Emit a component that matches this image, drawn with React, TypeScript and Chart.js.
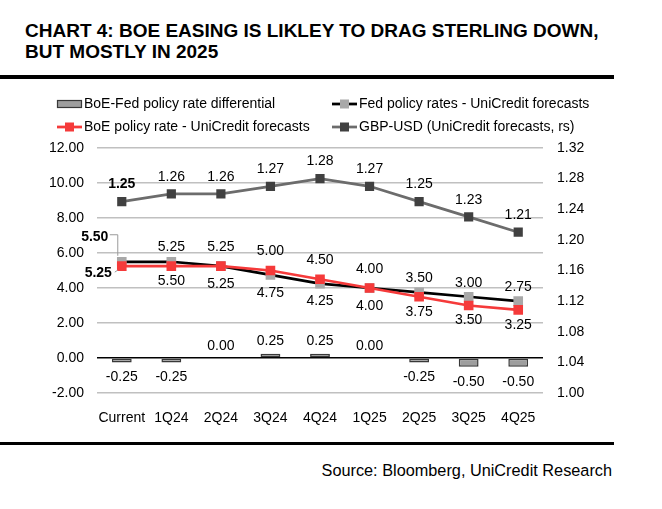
import React, { useEffect, useRef } from "react";
import { Chart, registerables } from "chart.js";

Chart.register(...registerables);

const categories = ["Current", "1Q24", "2Q24", "3Q24", "4Q24", "1Q25", "2Q25", "3Q25", "4Q25"];
const boeFedDiff = [-0.25, -0.25, 0.0, 0.25, 0.25, 0.0, -0.25, -0.5, -0.5];
const fedRates = [5.5, 5.5, 5.25, 4.75, 4.25, 4.0, 3.75, 3.5, 3.25];
const boeRates = [5.25, 5.25, 5.25, 5.0, 4.5, 4.0, 3.5, 3.0, 2.75];
const gbpUsd = [1.25, 1.26, 1.26, 1.27, 1.28, 1.27, 1.25, 1.23, 1.21];

const seriesNames = [
  "BoE-Fed policy rate differential",
  "Fed policy rates - UniCredit forecasts",
  "BoE policy rate - UniCredit forecasts",
  "GBP-USD (UniCredit forecasts, rs)",
];

const titleLines = ["CHART 4: BOE EASING IS LIKLEY TO DRAG STERLING DOWN,", "BUT MOSTLY IN 2025"];
const sourceText = "Source: Bloomberg, UniCredit Research";

const FONT = "Arial, 'Liberation Sans', Helvetica, sans-serif";
const RED = "#f53a3a";
const BAR_FILL = "#9e9e9e";
const BAR_EDGE = "#383838";
const FED_MARK = "#a8a8a8";
const GBP_LINE = "#6c6c6c";
const GBP_MARK = "#404040";
const FS = 14;

const labelsPlugin = {
  id: "valueLabels",
  afterDatasetsDraw(chart: any) {
    const ctx = chart.ctx;
    const xs = chart.scales.x;
    const y = chart.scales.y;
    const y2 = chart.scales.y2;
    ctx.save();
    ctx.fillStyle = "#000";
    ctx.textAlign = "center";
    ctx.textBaseline = "middle";
    const normal = `${FS}px ${FONT}`;
    const bold = `bold ${FS}px ${FONT}`;
    for (let i = 0; i < categories.length; i++) {
      const x = xs.getPixelForValue(i);
      const gy = y2.getPixelForValue(gbpUsd[i]);
      ctx.font = i === 0 ? bold : normal;
      ctx.fillText(gbpUsd[i].toFixed(2), x, gy - 17);
      const by = y.getPixelForValue(boeRates[i]);
      const fy = y.getPixelForValue(fedRates[i]);
      if (i === 0) {
        ctx.font = bold;
        ctx.fillText(fedRates[i].toFixed(2), x - 27, fy - 25);
        ctx.fillText(boeRates[i].toFixed(2), x - 23.5, by + 7);
        ctx.strokeStyle = "#9a9a9a";
        ctx.lineWidth = 1;
        ctx.beginPath();
        ctx.moveTo(x - 12, fy - 27);
        ctx.lineTo(x - 4, fy - 27);
        ctx.lineTo(x - 4, fy - 6);
        ctx.stroke();
        ctx.beginPath();
        ctx.moveTo(x - 7, by + 6);
        ctx.lineTo(x - 4, by + 4);
        ctx.stroke();
      } else {
        ctx.font = normal;
        ctx.fillText(boeRates[i].toFixed(2), x, Math.min(by - 19, fy - 14));
        ctx.fillText(fedRates[i].toFixed(2), x, Math.max(fy + 18, by + 15));
      }
      ctx.font = normal;
      const v = boeFedDiff[i];
      const dy = y.getPixelForValue(v);
      ctx.fillText(v.toFixed(2), x, v < 0 ? dy + 15 : dy - 12);
    }
    ctx.restore();
  },
  afterDraw(chart: any) {
    const ctx = chart.ctx;
    ctx.save();
    ctx.font = `${FS}px ${FONT}`;
    ctx.textAlign = "left";
    ctx.textBaseline = "middle";
    const rows = [14, 37];
    const cols = [57, 332];
    const items = [
      { col: 0, row: 0, kind: "bar" },
      { col: 1, row: 0, kind: "line", line: "#000", mark: FED_MARK },
      { col: 0, row: 1, kind: "line", line: RED, mark: RED },
      { col: 1, row: 1, kind: "line", line: GBP_LINE, mark: GBP_MARK },
    ];
    items.forEach((it: any, k) => {
      const x0 = cols[it.col];
      const yy = rows[it.row];
      if (it.kind === "bar") {
        ctx.fillStyle = BAR_FILL;
        ctx.fillRect(x0, yy - 3.5, 25, 7);
        ctx.strokeStyle = BAR_EDGE;
        ctx.lineWidth = 1.2;
        ctx.strokeRect(x0 + 0.5, yy - 3.5, 24, 7);
      } else {
        ctx.strokeStyle = it.line;
        ctx.lineWidth = 2.75;
        ctx.beginPath();
        ctx.moveTo(x0, yy);
        ctx.lineTo(x0 + 25, yy);
        ctx.stroke();
        ctx.fillStyle = it.mark;
        ctx.fillRect(x0 + 12.5 - 4.5, yy - 4.5, 9, 9);
      }
      ctx.fillStyle = "#000";
      ctx.fillText(seriesNames[k], x0 + 27, yy);
    });
    ctx.restore();
  },
};

export default function App() {
  const canvasRef = useRef<HTMLCanvasElement | null>(null);

  useEffect(() => {
    const canvas = canvasRef.current;
    if (!canvas) return;
    const chart = new Chart(canvas, {
      type: "bar",
      data: {
        labels: categories,
        datasets: [
          {
            type: "line",
            label: seriesNames[2],
            data: boeRates,
            yAxisID: "y",
            borderColor: RED,
            borderWidth: 2.75,
            pointStyle: "rect",
            pointRadius: 6.8,
            pointBackgroundColor: RED,
            pointBorderColor: RED,
            pointBorderWidth: 0,
            tension: 0,
            order: 1,
          } as any,
          {
            type: "line",
            label: seriesNames[1],
            data: fedRates,
            yAxisID: "y",
            borderColor: "#000",
            borderWidth: 2.75,
            pointStyle: "rect",
            pointRadius: 6.8,
            pointBackgroundColor: FED_MARK,
            pointBorderColor: FED_MARK,
            pointBorderWidth: 0,
            tension: 0,
            order: 2,
          } as any,
          {
            type: "line",
            label: seriesNames[3],
            data: gbpUsd,
            yAxisID: "y2",
            borderColor: GBP_LINE,
            borderWidth: 2.75,
            pointStyle: "rect",
            pointRadius: 6.5,
            pointBackgroundColor: GBP_MARK,
            pointBorderColor: GBP_MARK,
            pointBorderWidth: 0,
            tension: 0,
            order: 0,
          } as any,
          {
            type: "bar",
            label: seriesNames[0],
            data: boeFedDiff,
            yAxisID: "y",
            backgroundColor: BAR_FILL,
            borderColor: BAR_EDGE,
            borderWidth: 1.5,
            borderSkipped: false,
            barPercentage: 0.4,
            categoryPercentage: 1,
            order: 3,
          } as any,
        ],
      },
      options: {
        responsive: false,
        animation: false,
        devicePixelRatio: 1,
        layout: { padding: { top: 58, left: 0, right: 0, bottom: 0 } },
        plugins: {
          legend: { display: false },
          tooltip: { enabled: false },
          title: { display: false },
        },
        scales: {
          x: {
            grid: { display: false },
            border: { display: false },
            ticks: { color: "#000", font: { family: FONT, size: FS }, padding: 9, maxRotation: 0, autoSkip: false },
            afterFit: (s: any) => {
              s.height = 37;
            },
          },
          y: {
            position: "left",
            min: -2,
            max: 12,
            border: { display: false },
            grid: {
              drawTicks: false,
              color: (c: any) => (c.tick && c.tick.value === 0 ? "#000" : "#c0c0c0"),
              lineWidth: 1.5,
            },
            ticks: {
              stepSize: 2,
              color: "#000",
              font: { family: FONT, size: FS },
              padding: 13,
              callback: (v: any) => Number(v).toFixed(2),
            },
            afterFit: (s: any) => {
              s.width = 97;
            },
          },
          y2: {
            position: "right",
            min: 1.0,
            max: 1.32,
            border: { display: false },
            grid: { display: false, drawTicks: false },
            ticks: {
              stepSize: 0.04,
              color: "#000",
              font: { family: FONT, size: FS },
              padding: 14,
              callback: (v: any) => Number(v).toFixed(2),
            },
            afterFit: (s: any) => {
              s.width = 119;
            },
          },
        },
      },
      plugins: [labelsPlugin],
    });
    return () => chart.destroy();
  }, []);

  return (
    <div style={{ position: "absolute", left: 0, top: 0, width: 662, height: 509, background: "#fff", overflow: "hidden" }}>
      <div
        style={{
          position: "absolute",
          left: 25,
          top: 21,
          fontFamily: FONT,
          fontWeight: "bold",
          fontSize: 19,
          lineHeight: "20.5px",
          color: "#000",
          whiteSpace: "nowrap",
        }}
      >
        {titleLines.map((t, i) => (
          <div key={i}>{t}</div>
        ))}
      </div>
      <div style={{ position: "absolute", left: 0, top: 75, width: 614, height: 3.5, background: "#000" }} />
      <canvas
        ref={canvasRef}
        width={662}
        height={340}
        style={{ position: "absolute", left: 0, top: 90, width: 662, height: 340 }}
      />
      <div style={{ position: "absolute", left: 0, top: 441.5, width: 614, height: 3.5, background: "#000" }} />
      <div
        style={{
          position: "absolute",
          right: 50,
          top: 461.5,
          fontFamily: FONT,
          fontSize: 16.3,
          lineHeight: "16px",
          color: "#000",
          whiteSpace: "nowrap",
        }}
      >
        {sourceText}
      </div>
    </div>
  );
}
